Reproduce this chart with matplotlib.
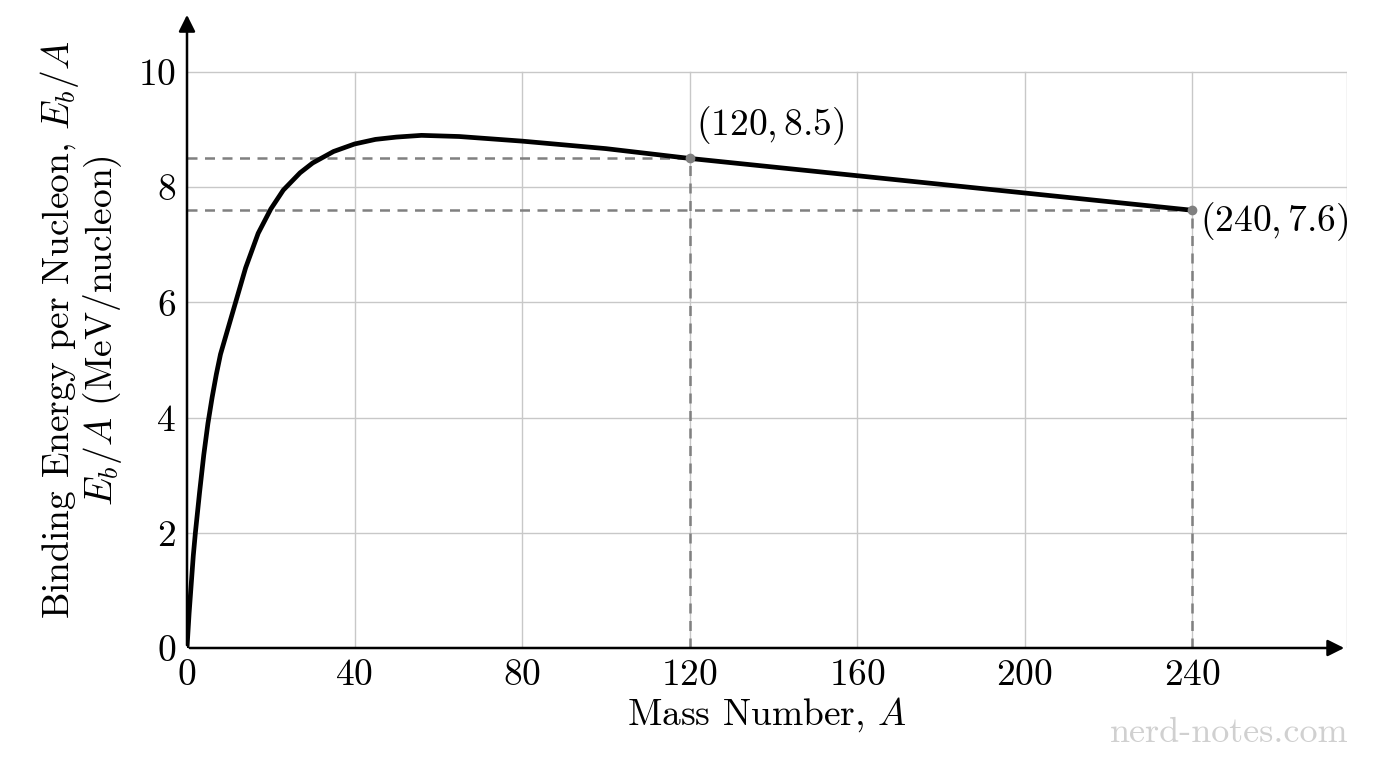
import matplotlib
matplotlib.use("Agg")
import matplotlib.pyplot as plt

mass = [0, 0.5, 1, 1.5, 2, 3, 4, 5, 6, 7, 8, 10, 12, 14, 17, 20, 23, 25, 27, 30, 35, 40, 45, 50, 56, 65, 80, 100, 120, 160, 200, 240]
be = [0, 0.6, 1.1, 1.6, 2.0, 2.7, 3.35, 3.9, 4.35, 4.75, 5.1, 5.6, 6.1, 6.6, 7.2, 7.62, 7.95, 8.1, 8.25, 8.42, 8.62, 8.75, 8.83, 8.87, 8.9, 8.88, 8.8, 8.67, 8.5, 8.2, 7.9, 7.6]
marked_x = [120, 240]
marked_y = [8.5, 7.6]
marked_labels = [r"$(120, 8.5)$", r"$(240, 7.6)$"]
xticks = [0, 40, 80, 120, 160, 200, 240]
yticks = [0, 2, 4, 6, 8, 10]

plt.rcParams['font.family'] = ['cmr10', 'DejaVu Serif']
plt.rcParams['mathtext.fontset'] = 'cm'
plt.rcParams['axes.formatter.use_mathtext'] = True

FS = 27
fig = plt.figure(figsize=(13.76, 7.68), dpi=100)
ax = fig.add_axes([0.1359, 0.15625, 0.843, 0.828])
XMAX, YMAX = 277, 11.04
ax.set_xlim(0, XMAX)
ax.set_ylim(0, YMAX)
for s in ax.spines.values():
    s.set_visible(False)

gc = '#c8c8c8'
for x in xticks[1:]:
    ax.plot([x, x], [0, 10], color=gc, lw=1, zorder=0)
ax.plot([XMAX, XMAX], [0, 10], color=gc, lw=1, zorder=0)
for y in yticks[1:]:
    ax.plot([0, XMAX], [y, y], color=gc, lw=1, zorder=0)

ax.annotate('', xy=(XMAX, 0), xytext=(0, 0),
            arrowprops=dict(arrowstyle='-|>', color='black', lw=1.8, mutation_scale=25), annotation_clip=False)
ax.annotate('', xy=(0, YMAX), xytext=(0, 0),
            arrowprops=dict(arrowstyle='-|>', color='black', lw=1.8, mutation_scale=25), annotation_clip=False)

for mx, my in zip(marked_x, marked_y):
    ax.plot([0, mx], [my, my], ls=(0, (4, 3)), color='#808080', lw=1.8, zorder=1)
    ax.plot([mx, mx], [0, my], ls=(0, (4, 3)), color='#808080', lw=1.8, zorder=1)

ax.plot(mass, be, color='black', lw=3.4, zorder=3, solid_capstyle='round', solid_joinstyle='round')
ax.plot(marked_x, marked_y, 'o', color='#808080', ms=6, zorder=4)
ax.text(marked_x[0] + 1.5, marked_y[0] + 0.2, marked_labels[0], fontsize=FS, ha='left', va='bottom')
ax.text(marked_x[1] + 2, marked_y[1] - 0.2, marked_labels[1], fontsize=FS, ha='left', va='center')

ax.set_xticks(xticks)
ax.set_yticks(yticks)
ax.tick_params(length=0, labelsize=FS, pad=8)
ax.set_xlabel(r"Mass Number, $A$", fontsize=FS, labelpad=2)
ax.set_ylabel("Binding Energy per Nucleon, $E_b/A$\n$E_b/A$ (MeV/nucleon)", fontsize=FS, labelpad=10, linespacing=1.0)

fig.text(0.98, 0.045, "nerd-notes.com", fontsize=26, color='#d0d0d0', ha='right', va='center', fontweight='bold')
fig.savefig("out.png", dpi=100)
